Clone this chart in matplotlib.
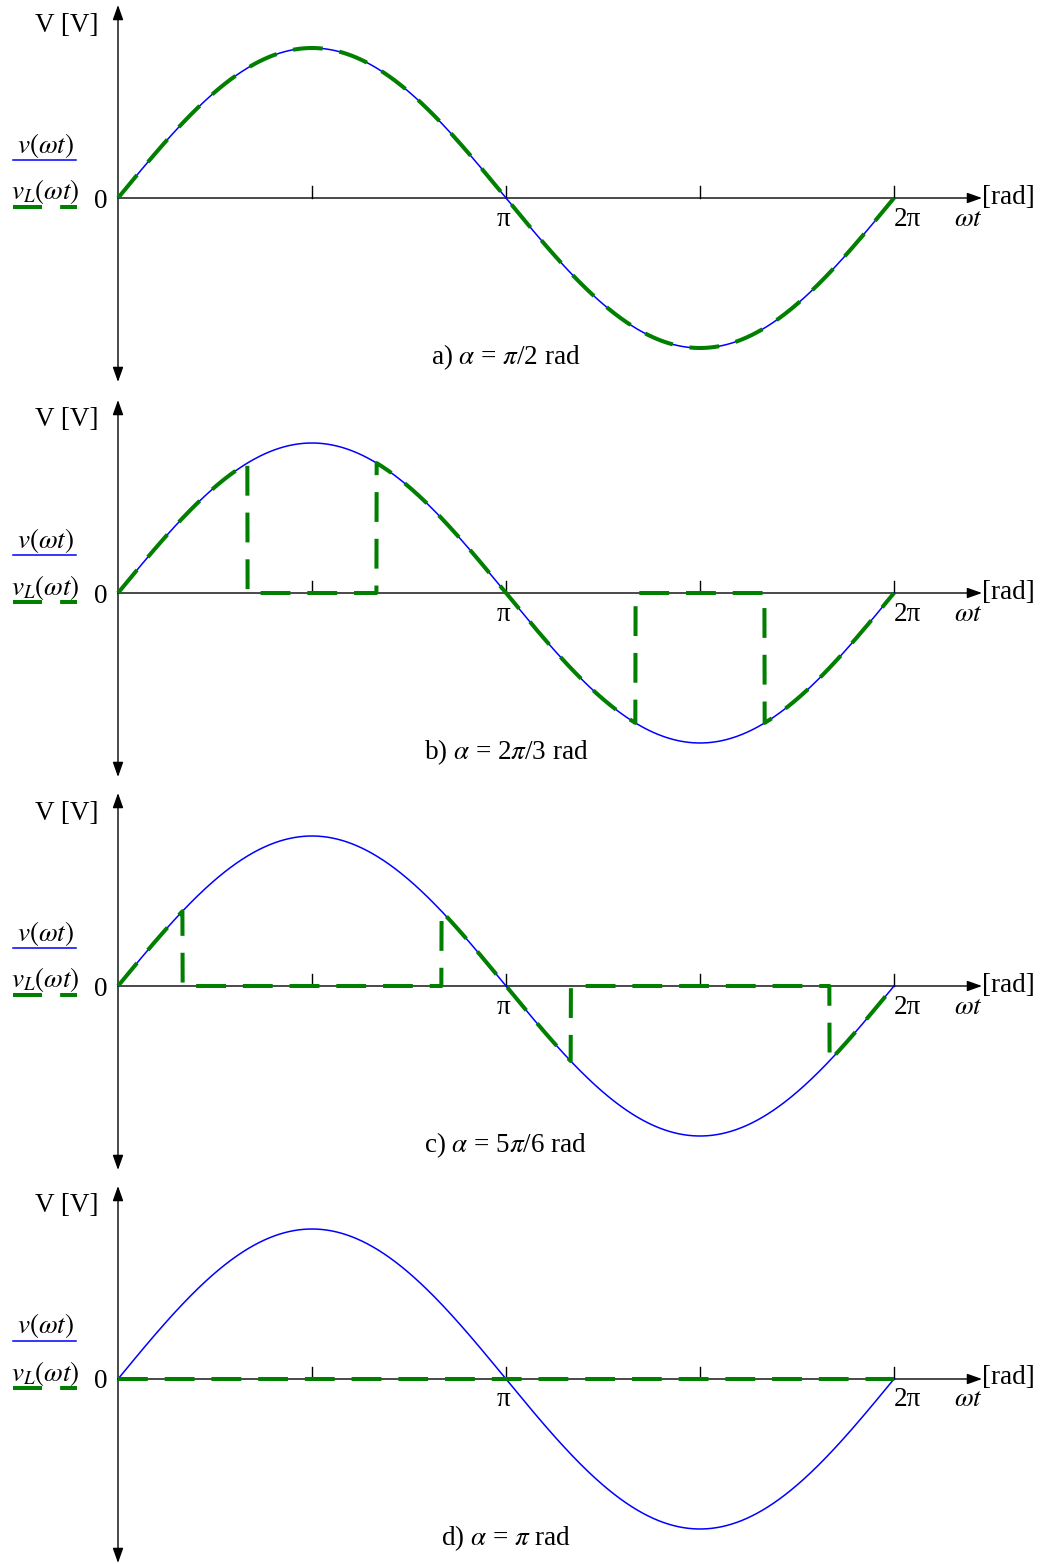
import numpy as np
import matplotlib
matplotlib.use("Agg")
import matplotlib.pyplot as plt

plt.rcParams['font.family'] = ['Liberation Serif', 'DejaVu Serif']
plt.rcParams['mathtext.fontset'] = 'stix'

# firing angles of the four cases and their captions
alphas = [np.pi / 2, 2 * np.pi / 3, 5 * np.pi / 6, np.pi]
captions = [r"a) $\alpha$ = $\pi$/2 rad", r"b) $\alpha$ = 2$\pi$/3 rad",
            r"c) $\alpha$ = 5$\pi$/6 rad", r"d) $\alpha$ = $\pi$ rad"]
amplitude = 1.0
tick_pos = [np.pi / 2, np.pi, 3 * np.pi / 2, 2 * np.pi]

W, H = 1042, 1564
zero_rows = [198, 593, 986, 1379]   # pixel row of each time axis
x0_px = 118                          # pixel column of the origin
px_per_rad = 776 / (2 * np.pi)
px_per_unit = 150
up_px, down_px = 196, 186

fig = plt.figure(figsize=(W / 100, H / 100), dpi=100)

wt = np.linspace(0, 2 * np.pi, 3001)
v = amplitude * np.sin(wt)

fs = 19.5
blue = '#0000ff'
green = '#007f00'


def px(dx, dy):
    # pixel offsets from the origin -> data units
    return dx / px_per_rad, dy / px_per_unit


for zr, alpha, cap in zip(zero_rows, alphas, captions):
    bottom = (H - zr - down_px) / H
    ax = fig.add_axes([0, bottom, 1, (up_px + down_px) / H])
    ax.set_xlim(-x0_px / px_per_rad, (W - x0_px) / px_per_rad)
    ax.set_ylim(-down_px / px_per_unit, up_px / px_per_unit)
    ax.axis('off')

    # axes with arrow heads
    ax.annotate('', xy=px(0, 193), xytext=px(0, -184),
                arrowprops=dict(arrowstyle='<|-|>,head_length=0.9,head_width=0.32',
                                mutation_scale=10, color='black', lw=1.0,
                                shrinkA=0, shrinkB=0))
    ax.annotate('', xy=px(864, 0), xytext=(0, 0),
                arrowprops=dict(arrowstyle='-|>,head_length=0.9,head_width=0.32',
                                mutation_scale=10, color='black', lw=1.0,
                                shrinkA=0, shrinkB=0))
    for t in tick_pos:
        ax.plot([t, t], [0, 12 / px_per_unit], color='black', lw=1.0)

    # load voltage: zero while the switch is off
    off = ((wt > np.pi - alpha) & (wt < alpha)) | \
          ((wt > 2 * np.pi - alpha) & (wt < np.pi + alpha))
    vL = np.where(off, 0.0, v)

    ax.plot(wt, v, color=blue, lw=1.1, zorder=3)
    ax.plot(wt, vL, color=green, lw=2.9, dashes=(7.4, 4.2), zorder=4)

    # labels
    ax.text(*px(-51, 173), 'V [V]', fontsize=fs, ha='center', va='center')
    ax.text(*px(-17, -3), '0', fontsize=fs, ha='center', va='center')
    ax.text(np.pi - 0.02, -21 / px_per_unit, 'π', fontsize=fs,
            ha='center', va='center')
    ax.text(2 * np.pi + 0.11, -21 / px_per_unit, '2π', fontsize=fs,
            ha='center', va='center')
    ax.text(*px(850, -21), r'$\omega t$', fontsize=fs, ha='center', va='center')
    ax.text(*px(890, 1), '[rad]', fontsize=fs, ha='center', va='center')
    ax.text(*px(388, -159), cap, fontsize=fs, ha='center', va='center')

    # legend keys at the left
    ax.text(*px(-73, 53), r'$v(\omega t)$', fontsize=fs,
            ha='center', va='center')
    ax.plot([-105 / px_per_rad, -42 / px_per_rad], [38 / px_per_unit] * 2,
            color=blue, lw=1.1)
    ax.text(*px(-73, 6), r'$v_L(\omega t)$', fontsize=fs,
            ha='center', va='center')
    ax.plot([-105 / px_per_rad, -41 / px_per_rad], [-9 / px_per_unit] * 2,
            color=green, lw=2.9, dashes=(7.2, 4.5))

fig.savefig('out.png', dpi=100)
